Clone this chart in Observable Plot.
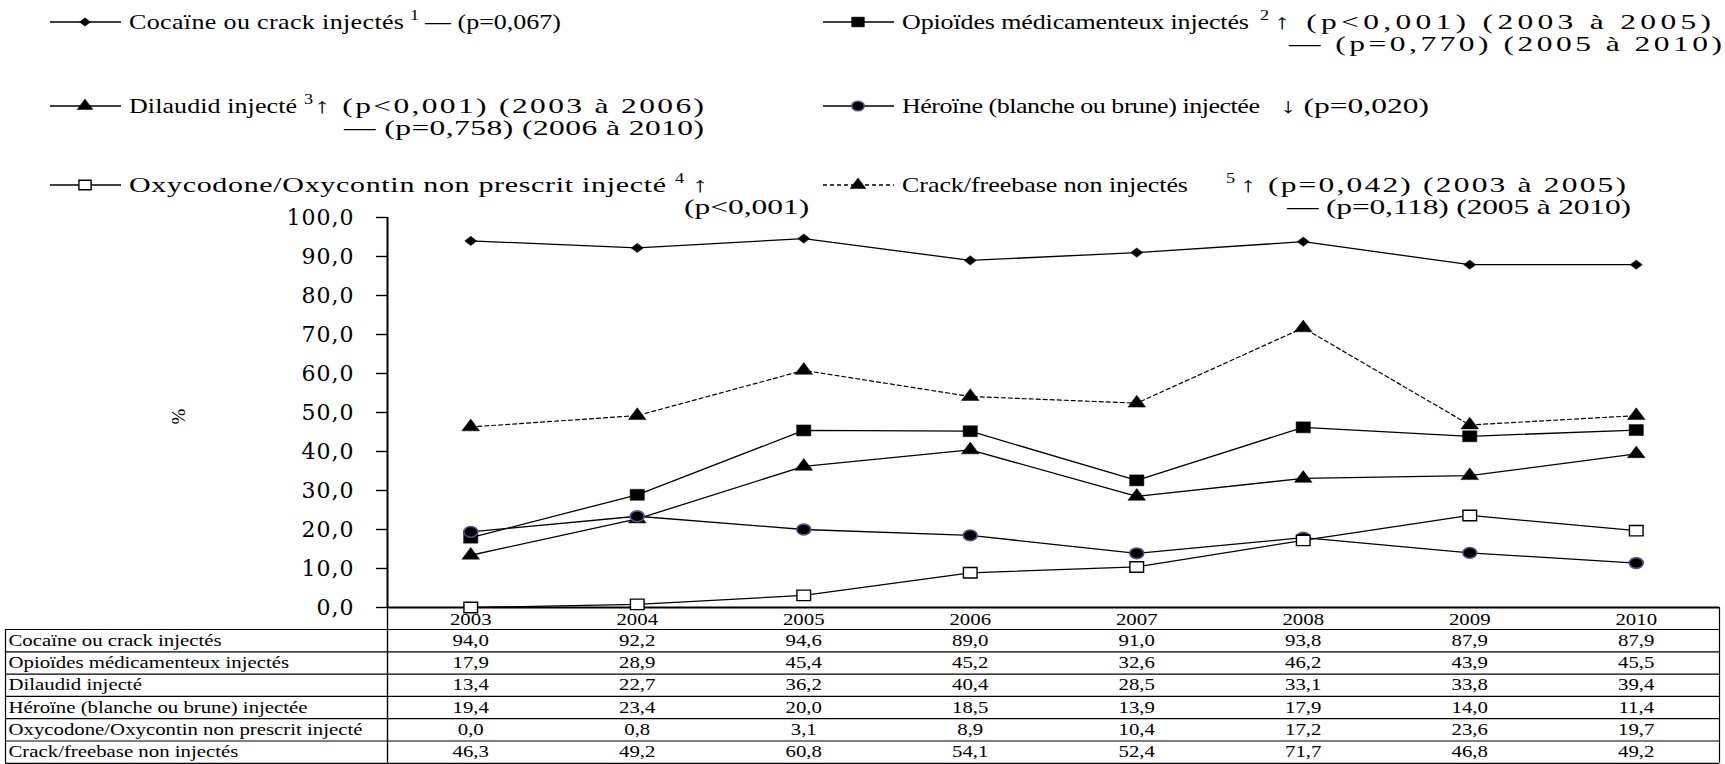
<!DOCTYPE html>
<html><head><meta charset="utf-8">
<script src="https://cdn.jsdelivr.net/npm/d3@7"></script>
<script src="https://cdn.jsdelivr.net/npm/@observablehq/plot@0.6"></script>
<style>
body{margin:0;background:#fff;}
#wrap{position:relative;width:1725px;height:764px;overflow:hidden;background:#fff}
#legend{position:relative;width:1725px;height:150px;z-index:2}
#legend svg{position:absolute;left:0;top:0;overflow:visible}
#chart{position:relative;z-index:1}
</style></head><body>
<div id="wrap"><div id="legend"></div><div id="chart"></div></div>
<script>
// ---- data ----
const years = [2003, 2004, 2005, 2006, 2007, 2008, 2009, 2010];
const seriesNames = [
  "Cocaïne ou crack injectés",
  "Opioïdes médicamenteux injectés",
  "Dilaudid injecté",
  "Héroïne (blanche ou brune) injectée",
  "Oxycodone/Oxycontin non prescrit injecté",
  "Crack/freebase non injectés"
];
const cocaine   = [94.0, 92.2, 94.6, 89.0, 91.0, 93.8, 87.9, 87.9];
const opioides  = [17.9, 28.9, 45.4, 45.2, 32.6, 46.2, 43.9, 45.5];
const dilaudid  = [13.4, 22.7, 36.2, 40.4, 28.5, 33.1, 33.8, 39.4];
const heroine   = [19.4, 23.4, 20.0, 18.5, 13.9, 17.9, 14.0, 11.4];
const oxycodone = [0.0, 0.8, 3.1, 8.9, 10.4, 17.2, 23.6, 19.7];
const crack     = [46.3, 49.2, 60.8, 54.1, 52.4, 71.7, 46.8, 49.2];
const yTicks = [0, 10, 20, 30, 40, 50, 60, 70, 80, 90, 100];
const legendSup = ["1", "2", "3", "", "4", "5"];
const legendTrend = ["— (p=0,067)", "↑ (p<0,001) (2003 à 2005)", "↑ (p<0,001) (2003 à 2006)", "↓ (p=0,020)", "↑", "↑ (p=0,042) (2003 à 2005)"];
const legendTrend2 = ["", "— (p=0,770) (2005 à 2010)", "— (p=0,758) (2006 à 2010)", "", "(p<0,001)", "— (p=0,118) (2005 à 2010)"];
const yLabel = "%";

const values = [cocaine, opioides, dilaudid, heroine, oxycodone, crack];
const fmt = v => v.toFixed(1).replace(".", ",");

// ---- styles: horizontally stretched look of the original ----
const SX = 1.3, SX2 = 1.5;
const symSquare = {draw(c, size) { const s = Math.sqrt(size) / 2; c.moveTo(-s * SX, -s); c.lineTo(s * SX, -s); c.lineTo(s * SX, s); c.lineTo(-s * SX, s); c.closePath(); }};
const symDiamond = {draw(c, size) { const r = Math.sqrt(size) * 0.62625; c.moveTo(0, -r); c.lineTo(r * SX, 0); c.lineTo(0, r); c.lineTo(-r * SX, 0); c.closePath(); }};
const symTriangle = {draw(c, size) { const y = -Math.sqrt(size / (Math.sqrt(3) * 3)); c.moveTo(0, y * 2); c.lineTo(-Math.sqrt(3) * y * SX, -y); c.lineTo(Math.sqrt(3) * y * SX, -y); c.closePath(); }};
const symEllipse = {draw(c, size) {
  const r = Math.sqrt(size / Math.PI), rx = r * SX, k = 0.5523;
  c.moveTo(rx, 0);
  c.bezierCurveTo(rx, k * r, k * rx, r, 0, r);
  c.bezierCurveTo(-k * rx, r, -rx, k * r, -rx, 0);
  c.bezierCurveTo(-rx, -k * r, -k * rx, -r, 0, -r);
  c.bezierCurveTo(k * rx, -r, rx, -k * r, rx, 0);
  c.closePath();
}};
const styles = [
  {sym: symDiamond, area: 55, fill: "#000", stroke: "#000", sw: 0.5, dash: null},
  {sym: symSquare, area: 120, fill: "#000", stroke: "#000", sw: 0.5, dash: null},
  {sym: symTriangle, area: 80, fill: "#000", stroke: "#000", sw: 0.5, dash: null},
  {sym: symEllipse, area: 90, fill: "#000", stroke: "#5e4b94", sw: 1.6, dash: null},
  {sym: symSquare, area: 110, fill: "#fff", stroke: "#000", sw: 1.4, dash: null},
  {sym: symTriangle, area: 80, fill: "#000", stroke: "#000", sw: 0.5, dash: "4,3"}
];
// legend layout: marker origin, text pieces [x start, target width or null, wide?] in px
const legendLayout = [
  {mx: 50,  y: 22,  name: [129, 275, 0], sup: 410,  trend: [425, null, 0], line2: null},
  {mx: 823, y: 22,  name: [902, 347, 0], sup: 1260, trend: [1274, 437, 1], line2: [1289, 433]},
  {mx: 50,  y: 106, name: [129, 168, 0], sup: 304,  trend: [314, 390, 1],  line2: [344, 360]},
  {mx: 823, y: 106, name: [902, 358, 0], sup: null, trend: [1280, null, 1], line2: null},
  {mx: 50,  y: 185, name: [129, 537, 1], sup: 675,  trend: [692, null, 1], line2: [684, null]},
  {mx: 823, y: 185, name: [902, 286, 0], sup: 1226, trend: [1240, 386, 1], line2: [1287, 344]}
];

// ---- legend ----
const legSvg = d3.select("#legend").append("svg")
  .attr("width", 1725).attr("height", 220)
  .style("font-family", "'Liberation Serif', serif")
  .style("font-size", "20px");
function piece(x, y, w, str, size, sx) {
  const t = legSvg.append("text").attr("transform", `translate(${x},${y}) scale(${sx},1)`).attr("fill", "#000").text(str);
  if (size) t.attr("font-size", size);
  if (w) t.attr("textLength", w / sx).attr("lengthAdjust", "spacing");
  return t;
}
seriesNames.forEach((name, i) => {
  const L = legendLayout[i], st = styles[i];
  const g = legSvg.append("g").attr("transform", `translate(${L.mx},${L.y})`);
  g.append("line").attr("x1", 0).attr("x2", 71).attr("y1", 0).attr("y2", 0)
    .attr("stroke", "#000").attr("stroke-width", 1.3).attr("stroke-dasharray", st.dash);
  g.append("path").attr("transform", "translate(35,0)")
    .attr("d", d3.symbol(st.sym, st.area * 0.8)())
    .attr("fill", st.fill).attr("stroke", st.stroke).attr("stroke-width", st.sw);
  const by = L.y + 7;
  piece(L.name[0], by, L.name[1], name, null, L.name[2] ? SX2 : SX);
  if (legendSup[i]) piece(L.sup, by - 9, 0, legendSup[i], "14px", SX);
  piece(L.trend[0], by, L.trend[1], legendTrend[i], L.trend[2] ? "21px" : null, L.trend[2] ? SX2 : SX);
  if (legendTrend2[i]) piece(L.line2[0], by + 22, L.line2[1], legendTrend2[i], "21px", SX2);
});

// ---- chart ----
const data = seriesNames.flatMap((s, i) => years.map((yr, j) => ({series: s, idx: i, year: yr, value: values[i][j]})));
const W = 1725, H = 614, mL = 387, mR = 6, mT = 67, mB = 157;
const headH = 22, rowH = 22.3, tableH = headH + rowH * 6;

const marks = [];
// table grid
marks.push(Plot.ruleY([0], {x1: 2002.5, x2: 2010.5, stroke: "#000", strokeWidth: 2}));
for (let k = 0; k <= 6; k++) {
  marks.push(Plot.ruleY([0], {x1: 2002.5, x2: 2010.5, dy: headH + rowH * k, insetLeft: -382, stroke: "#000", strokeWidth: 1.2}));
}
marks.push(Plot.ruleX([2002.5], {y1: 0, y2: 0, dx: -382, insetTop: headH, insetBottom: -tableH, stroke: "#000", strokeWidth: 1.2}));
marks.push(Plot.ruleX([2002.5], {y1: 0, y2: 0, insetBottom: -tableH, stroke: "#000", strokeWidth: 1.4}));
marks.push(Plot.ruleX([2010.5], {y1: 0, y2: 0, insetBottom: -tableH, stroke: "#000", strokeWidth: 1.2}));
// y axis spine
marks.push(Plot.ruleX([2002.5], {y1: 0, y2: 100, stroke: "#000", strokeWidth: 2}));
marks.push(Plot.axisY(yTicks, {anchor: "left", tickSize: 11, tickPadding: 22, tickFormat: fmt, fontSize: 22, fontFamily: "DejaVu Serif", strokeWidth: 1.4, label: null}));
marks.push(Plot.text([yLabel], {frameAnchor: "left", dx: -209, dy: 12, rotate: -90, fontSize: 19}));
// header years
marks.push(Plot.text(years, {x: d => d, y: 0, text: d => String(d), dy: headH / 2 + 1}));
// table rows
seriesNames.forEach((s, i) => {
  const dy = headH + rowH * i + rowH / 2;
  marks.push(Plot.text([s], {frameAnchor: "left", y: 0, dx: -379, dy, textAnchor: "start", text: d => d}));
  marks.push(Plot.text(years, {x: d => d, y: 0, text: (d, j) => fmt(values[i][j]), dy}));
});
// lines
marks.push(Plot.line(data.filter(d => d.idx !== 5), {x: "year", y: "value", z: "series", stroke: "#000", strokeWidth: 1.3}));
marks.push(Plot.line(data.filter(d => d.idx === 5), {x: "year", y: "value", stroke: "#000", strokeWidth: 1.2, strokeDasharray: "4,3"}));
// markers
seriesNames.forEach((s, i) => {
  const st = styles[i];
  marks.push(Plot.dot(data.filter(d => d.idx === i), {x: "year", y: "value", symbol: st.sym, r: Math.sqrt(st.area / Math.PI), fill: st.fill, stroke: st.stroke, strokeWidth: st.sw}));
});

const chart = Plot.plot({
  width: W, height: H,
  marginLeft: mL, marginRight: mR, marginTop: mT, marginBottom: mB,
  x: {type: "linear", domain: [2002.5, 2010.5], axis: null},
  y: {domain: [0, 100], axis: null},
  style: {fontFamily: "'Liberation Serif', serif", fontSize: "16px", color: "#000", background: "transparent", overflow: "visible"},
  marks
});
document.getElementById("chart").appendChild(chart);
// stretch table texts horizontally like the original
d3.select(chart).selectAll('g[aria-label="text"] text').each(function() {
  const tr = this.getAttribute("transform") || "";
  if (!tr.includes("rotate")) this.setAttribute("transform", tr + ` scale(${SX},1)`);
});
d3.select(chart).selectAll('g[aria-label="y-axis tick label"] text').style("letter-spacing", "1px");
</script>
</body></html>
